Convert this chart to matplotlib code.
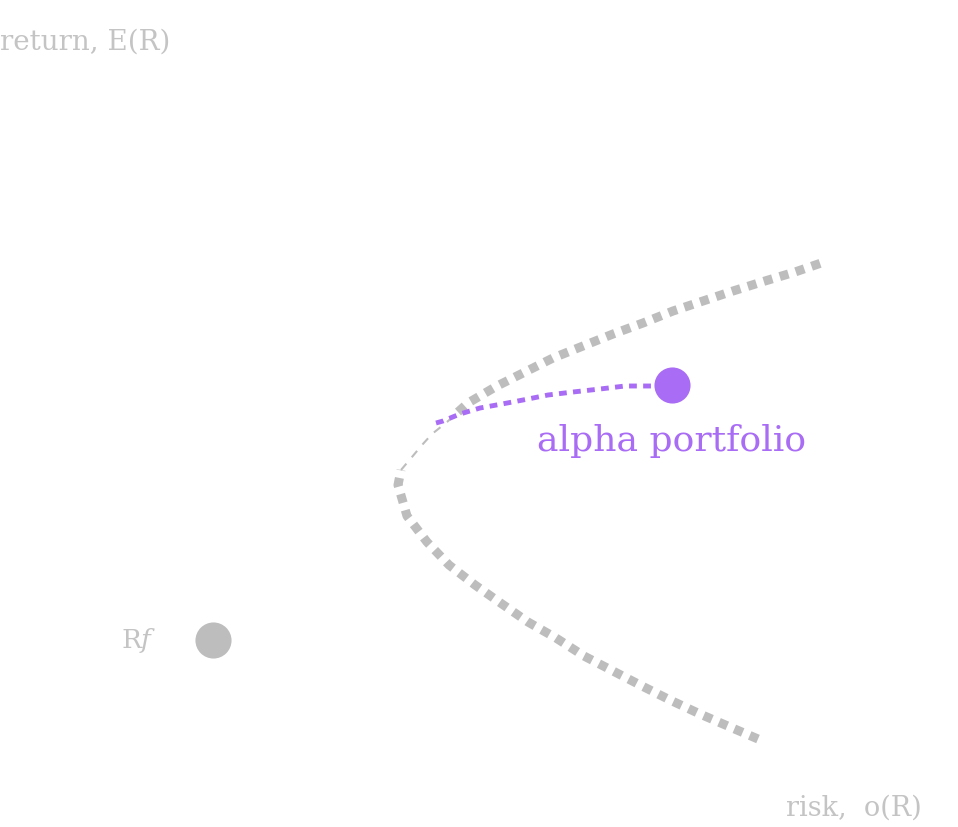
import matplotlib.pyplot as plt

# efficient frontier (risk, return), bottom branch -> top branch
lower_risk = [758, 730, 700, 670, 642, 613, 584, 556, 528, 502, 475, 449, 427, 407, 398, 401]
lower_ret = [88, 100, 113, 127, 141, 156, 171, 189, 205, 223, 242, 262, 285, 311, 342, 357]
gap_risk = [401, 412, 422, 432, 447, 458]
gap_ret = [357, 370, 382, 393, 405, 415]
upper_risk = [458, 468, 497, 525, 553, 583, 613, 643, 673, 703, 733, 765, 795, 827]
upper_ret = [415, 424, 441, 455, 469, 481, 493, 504, 516, 526, 536, 546, 555, 566]

# path toward the alpha portfolio
alpha_risk = [436, 443, 460, 480, 502, 523, 548, 573, 600, 625, 653, 672]
alpha_ret = [404, 406, 413, 419, 423, 427, 432, 435, 438, 441, 441, 442]

rf_point = (213, 187)
alpha_point = (672, 442)

grey = "#bdbdbd"
purple = "#a96cf5"
label_grey = "#c4c4c4"

plt.rcParams["font.family"] = ["DejaVu Serif"]
plt.rcParams["mathtext.fontset"] = "dejavuserif"

fig = plt.figure(figsize=(9.58, 8.28), dpi=100)
ax = fig.add_axes([0, 0, 1, 1])
ax.set_xlim(0, 958)
ax.set_ylim(0, 828)
ax.axis("off")

ax.plot(lower_risk, lower_ret, color=grey, linewidth=6.5, linestyle=(0, (1, 0.85)),
        dash_capstyle="butt")
ax.plot(gap_risk, gap_ret, color=grey, linewidth=1.5, linestyle=(0, (4, 4)))
ax.plot(upper_risk, upper_ret, color=grey, linewidth=6.5, linestyle=(0, (1, 0.85)),
        dash_capstyle="butt")

ax.plot(alpha_risk, alpha_ret, color=purple, linewidth=3.5, linestyle=(0, (1.6, 1.3)),
        dash_capstyle="butt")

ax.plot(*rf_point, "o", color=grey, markersize=26, markeredgewidth=0)
ax.plot(*alpha_point, "o", color=purple, markersize=26, markeredgewidth=0)

ax.text(alpha_point[0], alpha_point[1] - 55, "alpha portfolio", color=purple,
        fontsize=26, ha="center", va="center")
ax.text(rf_point[0] - 56, rf_point[1], "R$f$", color=label_grey,
        fontsize=19, ha="right", va="center")
ax.text(0, 786, "return, E(R)", color=label_grey, fontsize=20, ha="left", va="center")
ax.text(922, 20, "risk,  o(R)", color=label_grey, fontsize=19.5, ha="right", va="center")

fig.savefig("out.png", dpi=100, facecolor="white")
